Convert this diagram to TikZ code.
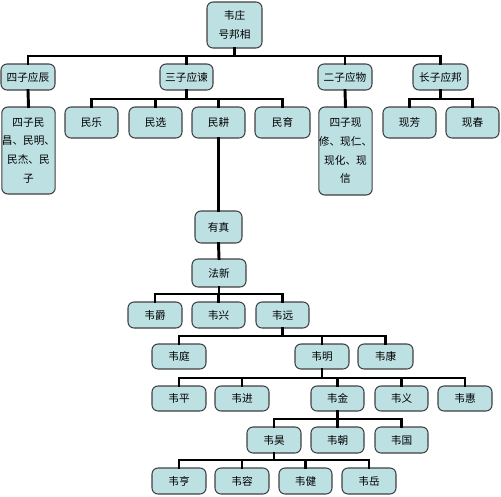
\documentclass[tikz,border=0pt]{standalone}
\usepackage{fontspec}
\newfontfamily\cjk{Noto Sans CJK SC}
\definecolor{boxfill}{HTML}{BDE0E3}
\definecolor{boxline}{HTML}{404040}
\tikzset{
  box/.style={draw=boxline, line width=0.8pt, fill=boxfill, rounded corners=4.5pt,
    inner sep=0pt, align=center, font=\cjk\fontsize{8}{14}\selectfont},
  conn/.style={line width=2.2pt, line cap=rect, black}
}
\newcommand\bx[6]{\node[box,minimum width={0.75pt*(#4-#2)},minimum height={0.75pt*(#5-#3)}] (#1) at ({(#2+#4)/2},{(#3+#5)/2}) {#6};}
\newcommand\myfamily[5]{% parent, bar y, children list, first, last
  \draw[conn] (#1.south) -- (#1.south |- 0,#2);
  \draw[conn] (#4.north |- 0,#2) -- (#5.north |- 0,#2);
  \foreach \c in {#3} {\draw[conn] (\c.north) -- (\c.north |- 0,#2);}
}
\begin{document}
\begin{tikzpicture}[x=0.75pt,y=-0.75pt]
\useasboundingbox (0,0) rectangle (501,497);
% level 0
\bx{root}{207}{2}{262}{48}{韦庄\\号邦相}
% level 1
\bx{a1}{1}{64}{55}{90}{四子应辰}
\bx{a2}{160}{64}{213}{90}{三子应谏}
\bx{a3}{318}{64}{372}{90}{二子应物}
\bx{a4}{413}{64}{468}{90}{长子应邦}
% level 2
\bx{b1}{2}{107}{55}{194}{四子民\\昌、民明、\\民杰、民\\子}
\bx{b2}{65}{107}{118}{138}{民乐}
\bx{b3}{129}{107}{182}{138}{民选}
\bx{b4}{192}{107}{245}{138}{民耕}
\bx{b5}{255}{107}{310}{138}{民育}
\bx{b6}{319}{107}{372}{195}{四子现\\修、现仁、\\现化、现\\信}
\bx{b7}{383}{107}{436}{138}{现芳}
\bx{b8}{446}{107}{499}{138}{现春}
% lower
\bx{c1}{195}{211}{242}{243}{有真}
\bx{d1}{192}{259}{246}{287}{法新}
\bx{e1}{128}{302}{182}{328}{韦爵}
\bx{e2}{192}{302}{245}{328}{韦兴}
\bx{e3}{256}{302}{309}{328}{韦远}
\bx{f1}{152}{344}{206}{369}{韦庭}
\bx{f2}{295}{344}{349}{369}{韦明}
\bx{f3}{358}{344}{413}{369}{韦康}
\bx{g1}{152}{386}{206}{411}{韦平}
\bx{g2}{215}{386}{269}{411}{韦进}
\bx{g3}{311}{386}{364}{411}{韦金}
\bx{g4}{375}{386}{428}{411}{韦义}
\bx{g5}{438}{386}{492}{411}{韦惠}
\bx{h1}{247}{427}{301}{453}{韦昊}
\bx{h2}{311}{427}{364}{453}{韦朝}
\bx{h3}{375}{427}{428}{453}{韦国}
\bx{i1}{152}{468}{206}{494}{韦亨}
\bx{i2}{215}{468}{269}{494}{韦容}
\bx{i3}{279}{468}{332}{494}{韦健}
\bx{i4}{342}{468}{396}{494}{韦岳}
% connectors
\myfamily{root}{56}{a1,a2,a3,a4}{a1}{a4}
\draw[conn] (a1.south) -- (b1.north);
\myfamily{a2}{99}{b2,b3,b4,b5}{b2}{b5}
\draw[conn] (a3.south) -- (b6.north);
\myfamily{a4}{99}{b7,b8}{b7}{b8}
\draw[conn] (b4.south) -- (b4.south |- c1.north);
\draw[conn] (c1.south) -- (d1.north);
\myfamily{d1}{294}{e1,e2,e3}{e1}{e3}
\myfamily{e3}{336}{f1,f2,f3}{f1}{f3}
\myfamily{f2}{378}{g1,g2,g3,g4,g5}{g1}{g5}
\myfamily{g3}{419}{h1,h2,h3}{h1}{h3}
\myfamily{h1}{460}{i1,i2,i3,i4}{i1}{i4}
\end{tikzpicture}
\end{document}
